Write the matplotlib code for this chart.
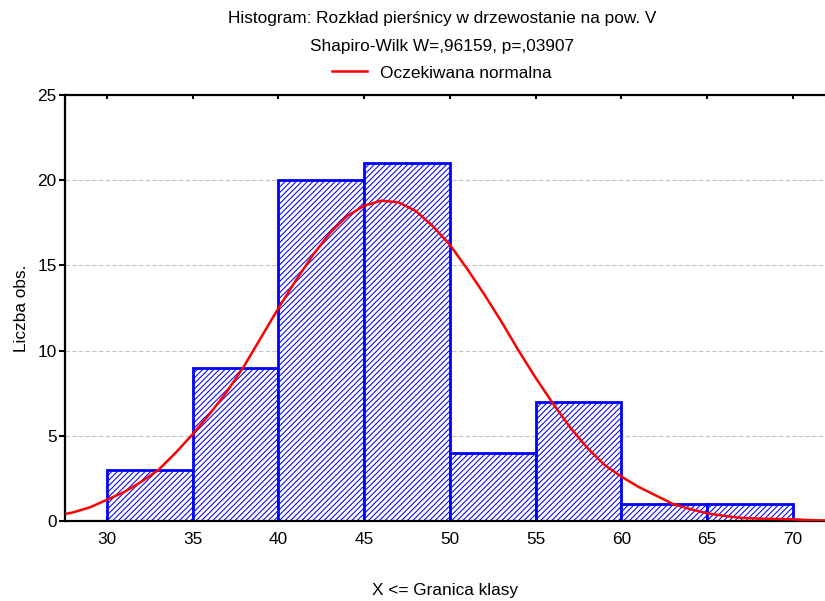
import numpy as np
import matplotlib
matplotlib.use("Agg")
from matplotlib import pyplot as plt

#histogram counts per class (upper bound of class on x axis)
bin_edges=[30,35,40,45,50,55,60,65,70]
counts=[3,9,20,21,4,7,1,1]

#expected normal curve
curve_x=[27.5,28,29,30,31,32,33,34,35,36,37,38,39,40,41,42,43,44,45,46,47,48,49,50,
         51,52,53,54,55,56,57,58,59,60,61,62,63,64,65,66,67,68,69,70,71,72]
curve_y=[0.4,0.5,0.8,1.25,1.7,2.3,3.0,4.0,5.1,6.3,7.6,9.1,10.8,12.5,14.1,15.6,16.9,17.9,18.5,18.8,18.7,18.2,17.3,16.2,
         14.8,13.3,11.7,10.0,8.4,6.9,5.5,4.3,3.3,2.6,2.0,1.5,1.0,0.7,0.45,0.3,0.18,0.14,0.12,0.1,0.05,0.03]

xticks=[30,35,40,45,50,55,60,65,70]
yticks=[0,5,10,15,20,25]

plt.rcParams['font.family']=['Liberation Sans','DejaVu Sans']
plt.rcParams['hatch.color']='#3030ff'
plt.rcParams['hatch.linewidth']=0.75

fs=12.4
fig=plt.figure(figsize=(8.25,6.01),dpi=100)
ax=fig.add_axes([65/825,80/601,760/825,426/601])

ax.bar(bin_edges[:-1],counts,width=5,align="edge",facecolor="white",
       edgecolor="blue",linewidth=2,hatch="//////",zorder=2)
line,=ax.plot(curve_x,curve_y,"-",color="red",lw=1.8,zorder=3,label="Oczekiwana normalna")

ax.set_xlim(27.55,71.87)
ax.set_ylim(0,25)
ax.set_xticks(xticks)
ax.set_yticks(yticks)
for y in yticks[1:-1]:
    ax.axhline(y,color="#c4c4c4",lw=0.8,ls=(0,(4,2)),zorder=1)

ax.spines['right'].set_visible(False)
for s in ['left','top','bottom']:
    ax.spines[s].set_linewidth(1.6)
ax.tick_params(axis='y',direction='out',length=4,width=1.5,labelsize=fs,pad=2)
ax.tick_params(axis='x',direction='in',length=3,width=1.5,labelsize=fs,pad=8,top=True)

ax.set_xlabel("X <= Granica klasy",fontsize=fs,labelpad=26)
ax.set_ylabel("Liczba obs.",fontsize=fs,labelpad=6)

fig.text(0.536,1-19/601,"Histogram: Rozkład pierśnicy w drzewostanie na pow. V",ha="center",va="center",fontsize=fs)
fig.text(0.536,1-46/601,"Shapiro-Wilk W=,96159, p=,03907",ha="center",va="center",fontsize=fs)
fig.legend(handles=[line],loc="center",bbox_to_anchor=(0.536,1-73/601),frameon=False,
           fontsize=fs,handlelength=2.0,handletextpad=0.8)

fig.savefig("out.png",dpi=100)
